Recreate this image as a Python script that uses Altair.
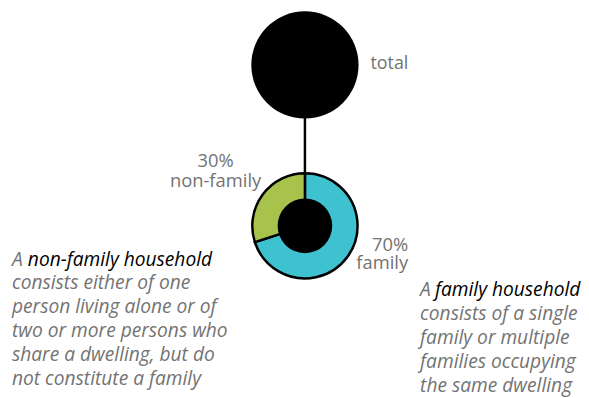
import altair as alt
import pandas as pd

# ---- data ----
share_categories = ["family", "non-family"]
share_values = [70, 30]
share_colors = ["#3ec2cf", "#a7c34b"]
share_labels = ["70%", "30%"]
total_label = "total"

left_lead = "A"
left_term = "non-family household"
left_lines = ["consists either of one", "person living alone or of",
              "two or more persons who", "share a dwelling, but do",
              "not constitute a family"]
right_lead = "A"
right_term = "family household"
right_lines = ["consists of a single", "family or multiple",
               "families occupying", "the same dwelling"]

# ---- layout (picture pixel coordinates) ----
W, H = 573, 382
xs = alt.Scale(domain=[8, 8 + W], nice=False, zero=False)
ys = alt.Scale(domain=[8, 8 + H], nice=False, zero=False, reverse=True)
top_c = (307, 64)
ring_c = (307, 226)
grey = "#737373"
font = "Open Sans"
para_size = 19.3

def X(f="x"):
    return alt.X(f"{f}:Q", scale=xs, axis=None)

def Y(f="y"):
    return alt.Y(f"{f}:Q", scale=ys, axis=None)

# connector
conn = pd.DataFrame({"x": [top_c[0]], "y": [top_c[1]], "y2": [ring_c[1]]})
rule = alt.Chart(conn).mark_rule(color="black", strokeWidth=2.5).encode(
    x=X(), y=Y(), y2="y2:Q")

# total circle
tot = pd.DataFrame({"x": [top_c[0]], "y": [top_c[1]]})
total_circle = alt.Chart(tot).mark_circle(color="black", opacity=1, size=108 ** 2).encode(x=X(), y=Y())

# donut
cum = []
s = 0
for v in share_values:
    cum.append((s, s + v))
    s += v
ring = pd.DataFrame({
    "cat": share_categories,
    "t0": [a for a, b in cum],
    "t1": [b for a, b in cum],
    "x": [ring_c[0]] * 2,
    "y": [ring_c[1]] * 2,
})
arcs = alt.Chart(ring).mark_arc(outerRadius=53, innerRadius=0, stroke="black", strokeWidth=2.5).encode(
    x=X(), y=Y(),
    theta=alt.Theta("t0:Q", stack=None, scale=alt.Scale(domain=[0, 100], range=[0, 6.283185307])),
    theta2="t1:Q",
    color=alt.Color("cat:N", scale=alt.Scale(domain=share_categories, range=share_colors), legend=None),
)
hole = alt.Chart(pd.DataFrame({"x": [ring_c[0]], "y": [ring_c[1]]})).mark_circle(
    color="black", opacity=1, size=55 ** 2).encode(x=X(), y=Y())

# labels
lab_total = alt.Chart(pd.DataFrame({"x": [373], "y": [68], "t": [total_label]})).mark_text(
    align="left", baseline="alphabetic", font=font, fontSize=18, color=grey).encode(x=X(), y=Y(), text="t:N")
lab_nf = alt.Chart(pd.DataFrame({"x": [217], "y": [167], "t": [share_labels[1] + "\n" + share_categories[1]]})).mark_text(
    align="center", baseline="alphabetic", font=font, fontSize=18.5, color=grey, lineBreak="\n", lineHeight=20
).encode(x=X(), y=Y(), text="t:N")
lab_f = alt.Chart(pd.DataFrame({"x": [411], "y": [251], "t": [share_labels[0] + "\n" + share_categories[0]]})).mark_text(
    align="right", baseline="alphabetic", font=font, fontSize=18.5, color=grey, lineBreak="\n", lineHeight=18
).encode(x=X(), y=Y(), text="t:N")

# paragraphs
left_base = [266, 290]
right_base = [297, 321]
line_h = 24
lead_df = pd.DataFrame({"x": [12, 423], "y": [left_base[0], right_base[0]], "t": [left_lead, right_lead]})
body_df = pd.DataFrame({
    "x": [12, 423],
    "y": [left_base[1], right_base[1]],
    "t": ["\n".join(left_lines), "\n".join(right_lines)],
})
term_df = pd.DataFrame({"x": [28, 438], "y": [left_base[0], right_base[0]], "t": [left_term, right_term]})

lead = alt.Chart(lead_df).mark_text(align="left", baseline="alphabetic", font=font, fontSize=para_size,
                                    fontStyle="italic", color=grey).encode(x=X(), y=Y(), text="t:N")
body = alt.Chart(body_df).mark_text(align="left", baseline="alphabetic", font=font, fontSize=para_size,
                                    fontStyle="italic", color=grey, lineBreak="\n", lineHeight=line_h
                                    ).encode(x=X(), y=Y(), text="t:N")
term = alt.Chart(term_df).mark_text(align="left", baseline="alphabetic", font=font, fontSize=para_size,
                                    fontStyle="italic", color="black").encode(x=X(), y=Y(), text="t:N")

chart = alt.layer(rule, total_circle, arcs, hole, lab_total, lab_nf, lab_f, lead, body, term).properties(
    width=W, height=H, padding=0
).configure_view(stroke=None)

chart.save("out.html", embed_options={"renderer": "svg", "actions": False})
